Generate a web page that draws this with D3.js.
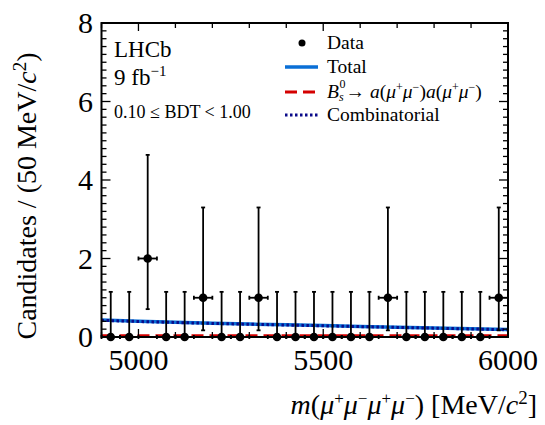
<!DOCTYPE html>
<html><head><meta charset="utf-8">
<script src="https://cdn.jsdelivr.net/npm/d3@7"></script>
<style>
body{margin:0;background:#fff;}
</style></head>
<body><svg id="c" width="545" height="425" font-family="'Liberation Serif', 'Times New Roman', serif"></svg>
<script>
// ---- data ----
const binCenters = [4925,4975,5025,5075,5125,5175,5225,5275,5325,5375,5425,5475,5525,5575,5625,5675,5725,5775,5825,5875,5925,5975];
const counts     = [0,0,2,0,0,1,0,0,1,0,0,0,0,0,0,1,0,0,0,0,0,1];
// Poisson asymmetric errors (low, high)
const errLow  = [0,0,1.29,0,0,0.83,0,0,0.83,0,0,0,0,0,0,0.83,0,0,0,0,0,0.83];
const errHigh = [1.15,1.15,2.64,1.15,1.15,2.30,1.15,1.15,2.30,1.15,1.15,1.15,1.15,1.15,1.15,2.30,1.15,1.15,1.15,1.15,1.15,2.30];
const curveMass  = [4900,5000,5100,5200,5300,5400,5500,5600,5700,5800,5900,6000];
const totalFit   = [0.43,0.40,0.375,0.35,0.33,0.31,0.29,0.27,0.25,0.23,0.21,0.19];
const combFit    = [0.425,0.395,0.37,0.345,0.325,0.305,0.285,0.265,0.245,0.225,0.205,0.185];
const signalFit  = [0.03,0.03,0.03,0.03,0.03,0.03,0.03,0.03,0.03,0.03,0.03,0.03];
const xTickLabels = [5000,5500,6000];
const yTickLabels = [0,2,4,6,8];

const svg = d3.select("#c");
const L=101.5, R=508, T=23, B=337;
const x = d3.scaleLinear().domain([4900,6000]).range([L,R]);
const y = d3.scaleLinear().domain([0,8]).range([B,T]);

// curves
const line = d3.line().x((d,i)=>x(curveMass[i])).y(d=>y(d));
svg.append("path").attr("d",line(totalFit)).attr("fill","none").attr("stroke","#0a6fd6").attr("stroke-width",3.5);
svg.append("path").attr("d",line(signalFit)).attr("fill","none").attr("stroke","#d40000").attr("stroke-width",3).attr("stroke-dasharray","12,6");
svg.append("path").attr("d",line(combFit)).attr("fill","none").attr("stroke","#0b0b8a").attr("stroke-width",3).attr("stroke-dasharray","2.5,2.5");

// data points
const g = svg.append("g").attr("stroke","#000").attr("stroke-width",1.8);
binCenters.forEach((m,i)=>{
  const cx=x(m), cy=y(counts[i]);
  const y0=y(counts[i]-errLow[i]), y1=y(counts[i]+errHigh[i]);
  g.append("line").attr("x1",cx).attr("x2",cx).attr("y1",y0).attr("y2",y1);
  g.append("line").attr("x1",cx-2).attr("x2",cx+2).attr("y1",y1).attr("y2",y1);
  if(errLow[i]>0) g.append("line").attr("x1",cx-2).attr("x2",cx+2).attr("y1",y0).attr("y2",y0);
  const xa=x(m-25), xb=x(m+25);
  g.append("line").attr("x1",xa).attr("x2",xb).attr("y1",cy).attr("y2",cy);
  g.append("line").attr("x1",xa).attr("x2",xa).attr("y1",cy-2).attr("y2",cy+2);
  g.append("line").attr("x1",xb).attr("x2",xb).attr("y1",cy-2).attr("y2",cy+2);
  svg.append("circle").attr("cx",cx).attr("cy",cy).attr("r",4.3).attr("fill","#000");
});

// frame
svg.append("rect").attr("x",L).attr("y",T).attr("width",R-L).attr("height",B-T).attr("fill","none").attr("stroke","#000").attr("stroke-width",2);

// axes ticks
const ax = svg.append("g").attr("stroke","#000").attr("stroke-width",1.3);
d3.range(4900,6001,100).forEach(v=>{
  const len = (v%500===0)?8:5;
  ax.append("line").attr("x1",x(v)).attr("x2",x(v)).attr("y1",B).attr("y2",B-len);
  ax.append("line").attr("x1",x(v)).attr("x2",x(v)).attr("y1",T).attr("y2",T+len);
});
d3.range(0,8.001,0.2).forEach(v=>{
  const major = Math.abs(v/2-Math.round(v/2))<1e-6;
  const len = major?9:5;
  ax.append("line").attr("x1",L).attr("x2",L+len).attr("y1",y(v)).attr("y2",y(v));
  ax.append("line").attr("x1",R).attr("x2",R-len).attr("y1",y(v)).attr("y2",y(v));
});

// tick labels
svg.selectAll(".xl").data(xTickLabels).enter().append("text")
  .attr("x",d=>x(d)).attr("y",370).attr("text-anchor","middle").attr("font-size",30).text(d=>d);
svg.selectAll(".yl").data(yTickLabels).enter().append("text")
  .attr("x",93).attr("y",d=>y(d)+10).attr("text-anchor","end").attr("font-size",30).text(d=>d);

// axis titles
const yt = svg.append("text").attr("transform","translate(36,196) rotate(-90)").attr("text-anchor","middle").attr("font-size",28);
yt.append("tspan").text("Candidates / (50 MeV/");
yt.append("tspan").attr("font-style","italic").text("c");
yt.append("tspan").attr("dy",-10).attr("font-size",19).text("2");
yt.append("tspan").attr("dy",10).text(")");

const xt = svg.append("text").attr("x",537).attr("y",414).attr("text-anchor","end").attr("font-size",28);
xt.append("tspan").attr("font-style","italic").text("m");
xt.append("tspan").text("(");
xt.append("tspan").attr("font-style","italic").text("μ");
xt.append("tspan").attr("dy",-10).attr("font-size",17).text("+");
xt.append("tspan").attr("dy",10).attr("font-style","italic").text("μ");
xt.append("tspan").attr("dy",-10).attr("font-size",17).text("−");
xt.append("tspan").attr("dy",10).attr("font-style","italic").text("μ");
xt.append("tspan").attr("dy",-10).attr("font-size",17).text("+");
xt.append("tspan").attr("dy",10).attr("font-style","italic").text("μ");
xt.append("tspan").attr("dy",-10).attr("font-size",17).text("−");
xt.append("tspan").attr("dy",10).text(") [MeV/");
xt.append("tspan").attr("font-style","italic").text("c");
xt.append("tspan").attr("dy",-10).attr("font-size",19).text("2");
xt.append("tspan").attr("dy",10).text("]");

// LHCb labels
svg.append("text").attr("x",114).attr("y",57).attr("font-size",23).text("LHCb");
const fb = svg.append("text").attr("x",114).attr("y",85).attr("font-size",23);
fb.append("tspan").text("9 fb");
fb.append("tspan").attr("dy",-9).attr("font-size",15).text("−1");
svg.append("text").attr("x",114).attr("y",118).attr("font-size",18).text("0.10 ≤ BDT < 1.00");

// legend
const lx1=285, lx2=318, tx=327, fs=19.5;
svg.append("circle").attr("cx",302).attr("cy",43).attr("r",3.5).attr("fill","#000");
svg.append("text").attr("x",tx).attr("y",49).attr("font-size",fs).text("Data");
svg.append("line").attr("x1",lx1).attr("x2",lx2).attr("y1",67).attr("y2",67).attr("stroke","#0a6fd6").attr("stroke-width",3.5);
svg.append("text").attr("x",tx).attr("y",73).attr("font-size",fs).text("Total");
svg.append("line").attr("x1",lx1).attr("x2",lx2).attr("y1",92).attr("y2",92).attr("stroke","#d40000").attr("stroke-width",3).attr("stroke-dasharray","12,6");
const sg = svg.append("text").attr("x",tx).attr("y",98).attr("font-size",fs);
sg.append("tspan").attr("font-style","italic").text("B");
sg.append("tspan").attr("dy",3).attr("font-size",12).attr("font-style","italic").text("s");
sg.append("tspan").attr("dx",-4).attr("dy",-13).attr("font-size",12).text("0");
sg.append("tspan").attr("dy",10).text("→ ");
sg.append("tspan").attr("font-style","italic").text("a");
sg.append("tspan").text("(");
sg.append("tspan").attr("font-style","italic").text("μ");
sg.append("tspan").attr("dy",-7).attr("font-size",12).text("+");
sg.append("tspan").attr("dy",7).attr("font-style","italic").text("μ");
sg.append("tspan").attr("dy",-7).attr("font-size",12).text("−");
sg.append("tspan").attr("dy",7).text(")");
sg.append("tspan").attr("font-style","italic").text("a");
sg.append("tspan").text("(");
sg.append("tspan").attr("font-style","italic").text("μ");
sg.append("tspan").attr("dy",-7).attr("font-size",12).text("+");
sg.append("tspan").attr("dy",7).attr("font-style","italic").text("μ");
sg.append("tspan").attr("dy",-7).attr("font-size",12).text("−");
sg.append("tspan").attr("dy",7).text(")");
svg.append("line").attr("x1",lx1).attr("x2",lx2).attr("y1",115).attr("y2",115).attr("stroke","#0b0b8a").attr("stroke-width",3).attr("stroke-dasharray","2.5,2.5");
svg.append("text").attr("x",tx).attr("y",121).attr("font-size",fs).text("Combinatorial");
</script></body></html>
